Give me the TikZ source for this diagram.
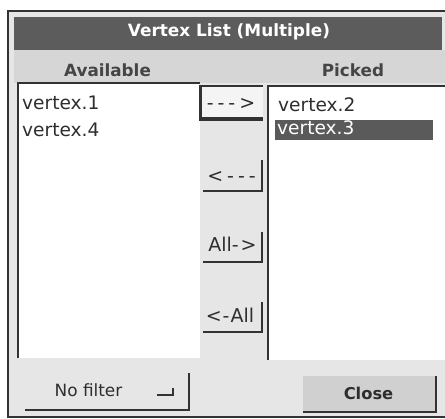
\documentclass[tikz,border=0pt]{standalone}
\usepackage{fontspec}
\setmainfont{DejaVu Sans}
\definecolor{panel}{HTML}{E6E6E6}
\definecolor{headerc}{HTML}{D6D6D6}
\definecolor{titlec}{HTML}{5C5C5C}
\definecolor{dark}{HTML}{333333}
\definecolor{txt}{HTML}{2E2E2E}
\definecolor{headtxt}{HTML}{454545}
\definecolor{selc}{HTML}{5A5A5A}
\definecolor{closec}{HTML}{D0D0D0}
\definecolor{pressc}{HTML}{F4F4F4}
\begin{document}
\begin{tikzpicture}[x=1pt,y=-1pt,
  edge/.style={draw=dark,line width=2pt},
  shadow/.style={draw=dark,line width=2.6pt},
  titletext/.style={text=white,font=\bfseries\fontsize{16.9}{18}\selectfont,inner sep=0pt,anchor=base},
  headtext/.style={text=headtxt,font=\bfseries\fontsize{16.8}{18}\selectfont,inner sep=0pt,anchor=base},
  item/.style={text=txt,font=\fontsize{18.6}{20}\selectfont,inner sep=0pt,anchor=base west},
  btntext/.style={text=txt,font=\fontsize{19}{21}\selectfont,inner sep=0pt,anchor=base},
  bottomtext/.style={text=txt,font=\fontsize{16.9}{18}\selectfont,inner sep=0pt,anchor=base}]
\useasboundingbox (0,0) rectangle (445,419);
\fill[white] (0,0) rectangle (445,419);
% panel and frame
\fill[panel] (8,11) rectangle (445,417);
\draw[edge] (445,11) -- (8,11) -- (8,417) -- (445,417);
% title bar
\fill[titlec] (14,17) rectangle (442,50);
\node[titletext] (title) at (229,37) {Vertex List (Multiple)};
% header band
\fill[headerc] (14,50) rectangle (445,83);
\node[headtext] (avail) at (107.5,77) {Available};
\node[headtext] (picked) at (353,77) {Picked};
% left list
\fill[white] (18,83) rectangle (200,358);
\draw[edge] (18,358) -- (18,83) -- (200,83);
\node[item] (v1) at (22,110) {vertex.1};
\node[item] (v4) at (22,137) {vertex.4};
% right list
\fill[white] (268,86) rectangle (445,360);
\draw[edge] (268,360) -- (268,86) -- (445,86);
\node[item] (v2) at (278,112) {vertex.2};
\fill[selc] (275,120) rectangle (433,140);
\node[item,text=white] (v3) at (277,135) {vertex.3};
% button ---> (pressed)
\fill[pressc] (199,86) rectangle (263,121);
\draw[draw=dark,line width=1.2pt] (199,86) -- (263,86);
\draw[draw=dark,line width=2.6pt] (200.3,86) -- (200.3,121);
\draw[draw=dark,line width=4pt] (199,119) -- (263,119);
\node[btntext] (add) at (231,110) {-\kern4pt-\kern4pt-\kern4pt>};
% button <---
\draw[shadow] (203,191) -- (262,191) -- (262,160);
\node[btntext] (remove) at (231.5,183) {<\kern4pt-\kern4pt-\kern4pt-};
% button All->
\draw[shadow] (203,262) -- (262,262) -- (262,232);
\node[btntext] (addall) at (232.5,252) {All-\kern2pt>};
% button <-All
\draw[shadow] (203,332) -- (262,332) -- (262,302);
\node[btntext] (removeall) at (230,323) {<\kern1pt-\kern1pt All};
% No filter button
\draw[shadow] (25,410) -- (189,410) -- (189,373);
\node[bottomtext] (filter) at (88.5,397) {No filter};
\draw[draw=dark,line width=2.2pt] (157,395) -- (173,395) -- (173,388);
% Close button
\fill[closec] (303,376) rectangle (436,412);
\draw[shadow] (303,412) -- (436,412) -- (436,376);
\node[bottomtext,font=\bfseries\fontsize{16.3}{18}\selectfont] (close) at (368.5,400) {Close};
\end{tikzpicture}
\end{document}
